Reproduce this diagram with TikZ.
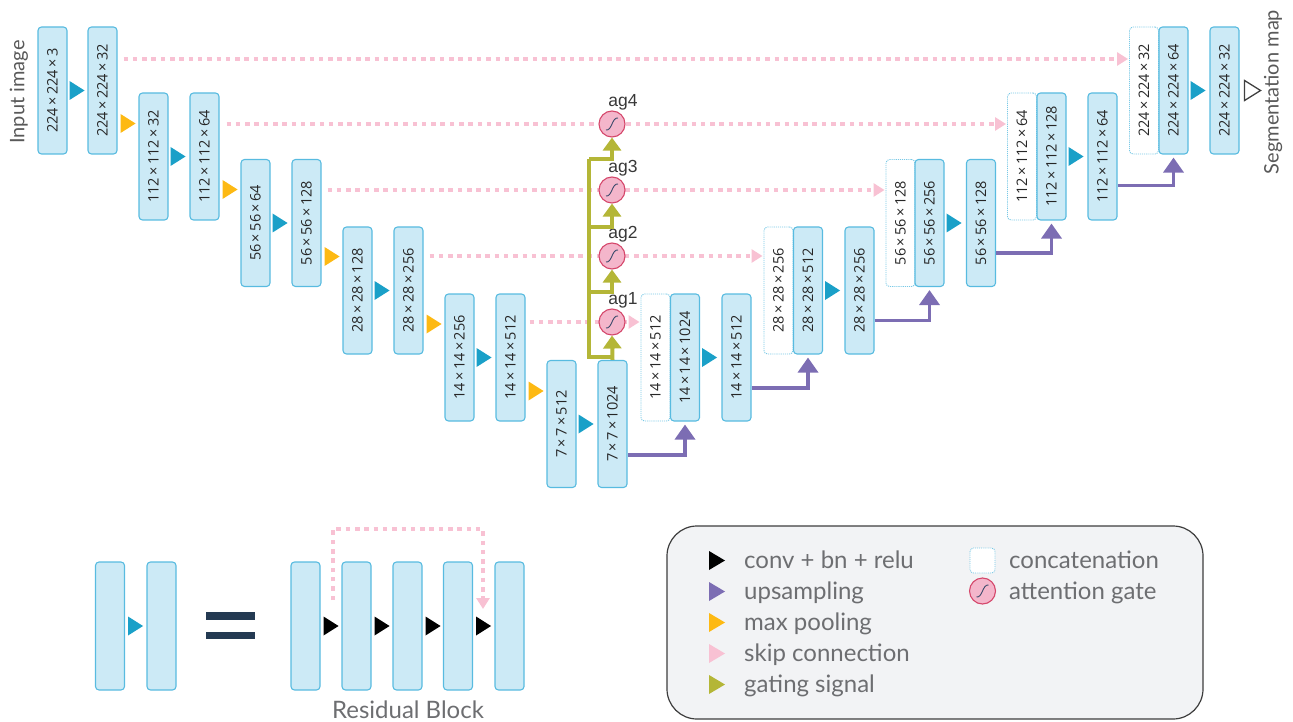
\documentclass[tikz,border=0pt]{standalone}
\usepackage{fontspec}
\usepackage{graphicx}
\usetikzlibrary{arrows.meta,calc}
\newfontfamily\lato{Lato}
\newfontfamily\boxfont{Open Sans}
\newfontfamily\agfont{Liberation Sans}
\definecolor{boxfill}{HTML}{CCEAF6}
\definecolor{boxline}{HTML}{58BBE0}
\definecolor{convc}{HTML}{1AA0C8}
\definecolor{poolc}{HTML}{FDB913}
\definecolor{skipc}{HTML}{F8C1D3}
\definecolor{gatec}{HTML}{B4B637}
\definecolor{upc}{HTML}{7C6DB3}
\definecolor{agf}{HTML}{F4B6CB}
\definecolor{agd}{HTML}{D5476B}
\definecolor{sigc}{HTML}{3B4A6B}
\definecolor{eqc}{HTML}{243A52}
\definecolor{legf}{HTML}{F2F3F5}
\definecolor{legd}{HTML}{3D3D3D}
\definecolor{txtc}{HTML}{6D6E71}
\newcommand\convtri[2]{\fill[#1] #2 ++(0,-9.5) -- ++(15,9.5) -- ++(-15,9.5) -- cycle;}
\newcommand\sigm[1]{\draw[sigc, line width=0.9pt] ($(#1)+(-6,6)$) .. controls ($(#1)+(0,7)$) and ($(#1)+(0,-7)$) .. ($(#1)+(6,-6)$);}
\begin{document}
\begin{tikzpicture}[x=1pt,y=-1pt,
 blk/.style={draw=boxline, fill=boxfill, rounded corners=3.5pt, line width=1.1pt, minimum width=29pt, minimum height=127pt, inner sep=0pt, font=\boxfont\fontsize{14.5}{14.5}\selectfont, text=black!85},
 cat/.style={blk, fill=white, draw=boxline!80, densely dotted, line width=0.9pt},
 rblk/.style={blk, minimum height=128pt},
 skip/.style={draw=skipc, line width=4pt, dash pattern=on 4.5pt off 4.8pt, -{Triangle[width=13pt,length=11pt]}},
 gline/.style={draw=gatec, line width=4pt},
 gate/.style={gline, -{Triangle[width=18pt,length=13pt]}},
 upl/.style={draw=upc, line width=3.5pt, -{Triangle[width=20pt,length=15pt]}},
 ag/.style={circle, draw=agd, fill=agf, line width=1.1pt, minimum size=26pt, inner sep=0pt},
 aglbl/.style={font=\agfont\fontsize{17.5}{17.5}\selectfont, text=black!78, inner sep=0pt, anchor=base},
 bigtxt/.style={font=\lato\fontsize{20}{20}\selectfont, text=black!65, inner sep=0pt},
 legtxt/.style={font=\lato\fontsize{24}{24}\selectfont, text=txtc, inner sep=0pt, anchor=base west},
]
\useasboundingbox (0,0) rectangle (1293,722);
% ---------- encoder
\node[blk] (E1a) at (52.5,90.5) {\rotatebox{90}{224\,×\,224\,×\,3}};
\node[blk] (E1b) at (102.5,90.5) {\rotatebox{90}{224\,×\,224\,×\,32}};
\node[blk] (E2a) at (153.5,156.5) {\rotatebox{90}{112\,×\,112\,×\,32}};
\node[blk] (E2b) at (204.5,156.5) {\rotatebox{90}{112\,×\,112\,×\,64}};
\node[blk] (E3a) at (255.5,223) {\rotatebox{90}{56\,×\,56\,×\,64}};
\node[blk] (E3b) at (306.5,223) {\rotatebox{90}{56\,×\,56\,×\,128}};
\node[blk] (E4a) at (357.5,290.5) {\rotatebox{90}{28\,×\,28\,×\,128}};
\node[blk] (E4b) at (408.5,290.5) {\rotatebox{90}{28\,×\,28\,×\,256}};
\node[blk] (E5a) at (459.5,357.5) {\rotatebox{90}{14\,×\,14\,×\,256}};
\node[blk] (E5b) at (510.5,357.5) {\rotatebox{90}{14\,×\,14\,×\,512}};
\node[blk] (E6a) at (561.5,424) {\rotatebox{90}{7\,×\,7\,×\,512}};
\node[blk] (E6b) at (612.5,424) {\rotatebox{90}{7\,×\,7\,×\,1024}};
% ---------- decoder
\node[cat] (D5c) at (655.5,357.5) {\rotatebox{90}{14\,×\,14\,×\,512}};
\node[blk] (D5b) at (685,357.5) {\rotatebox{90}{14\,×\,14\,×\,1024}};
\node[blk] (D5n) at (736.5,357.5) {\rotatebox{90}{14\,×\,14\,×\,512}};
\node[cat] (D4c) at (778.5,290.5) {\rotatebox{90}{28\,×\,28\,×\,256}};
\node[blk] (D4b) at (808,290.5) {\rotatebox{90}{28\,×\,28\,×\,512}};
\node[blk] (D4n) at (859.5,290.5) {\rotatebox{90}{28\,×\,28\,×\,256}};
\node[cat] (D3c) at (900.5,223) {\rotatebox{90}{56\,×\,56\,×\,128}};
\node[blk] (D3b) at (929.5,223) {\rotatebox{90}{56\,×\,56\,×\,256}};
\node[blk] (D3n) at (981,223) {\rotatebox{90}{56\,×\,56\,×\,128}};
\node[cat] (D2c) at (1022,156.5) {\rotatebox{90}{112\,×\,112\,×\,64}};
\node[blk] (D2b) at (1051.5,156.5) {\rotatebox{90}{112\,×\,112\,×\,128}};
\node[blk] (D2n) at (1102.5,156.5) {\rotatebox{90}{112\,×\,112\,×\,64}};
\node[cat] (D1c) at (1144,90.5) {\rotatebox{90}{224\,×\,224\,×\,32}};
\node[blk] (D1b) at (1173.5,90.5) {\rotatebox{90}{224\,×\,224\,×\,64}};
\node[blk] (D1n) at (1224.5,90.5) {\rotatebox{90}{224\,×\,224\,×\,32}};
% ---------- side texts
\node[bigtxt, rotate=90] (inp) at (19,92) {Input image};
\node[bigtxt, rotate=90] (seg) at (1273,92) {Segmentation map};
\draw[line width=1.3pt, draw=black!75] ($(D1n.east)+(5,-10)$) -- ++(16,10) -- ++(-16,10) -- cycle;
% ---------- conv arrows
\convtri{convc}{($(E1a.east)+(2,0)$)}
\convtri{convc}{($(E2a.east)+(2,0)$)}
\convtri{convc}{($(E3a.east)+(2,0)$)}
\convtri{convc}{($(E4a.east)+(2,0)$)}
\convtri{convc}{($(E5a.east)+(2,0)$)}
\convtri{convc}{($(E6a.east)+(2,0)$)}
\convtri{convc}{($(D5b.east)+(2,0)$)}
\convtri{convc}{($(D4b.east)+(2,0)$)}
\convtri{convc}{($(D3b.east)+(2,0)$)}
\convtri{convc}{($(D2b.east)+(2,0)$)}
\convtri{convc}{($(D1b.east)+(2,0)$)}
% ---------- pooling arrows
\convtri{poolc}{($(E1b.east |- 0,123.5)+(3,0)$)}
\convtri{poolc}{($(E2b.east |- 0,189.5)+(3,0)$)}
\convtri{poolc}{($(E3b.east |- 0,256.5)+(3,0)$)}
\convtri{poolc}{($(E4b.east |- 0,324)+(3,0)$)}
\convtri{poolc}{($(E5b.east |- 0,391)+(3,0)$)}
% ---------- attention gates positions
\coordinate (ag4p) at (612,124);
\coordinate (ag3p) at (612,190);
\coordinate (ag2p) at (612,256);
\coordinate (ag1p) at (612,322);
% ---------- skip connections
\draw[skip] ($(E1b.east |- 0,59)+(6,0)$) -- ($(D1c.west |- 0,59)+(-1,0)$);
\draw[skip] ($(E2b.east |- ag4p)+(7,0)$) -- ($(D2c.west |- ag4p)+(-1,0)$);
\draw[skip] ($(E3b.east |- ag3p)+(6,0)$) -- ($(D3c.west |- ag3p)+(-1,0)$);
\draw[skip] ($(E4b.east |- ag2p)+(6,0)$) -- ($(D4c.west |- ag2p)+(-1,0)$);
\draw[skip] ($(E5b.east |- ag1p)+(4,0)$) -- ($(D5c.west |- ag1p)+(-1,0)$);
% ---------- gates
\node[ag] (ag4) at (ag4p) {};
\node[ag] (ag3) at (ag3p) {};
\node[ag] (ag2) at (ag2p) {};
\node[ag] (ag1) at (ag1p) {};
\sigm{ag4}\sigm{ag3}\sigm{ag2}\sigm{ag1}
\node[aglbl] (l4) at ($(ag4.north)+(11,-3.5)$) {ag4};
\node[aglbl] (l3) at ($(ag3.north)+(11,-3.5)$) {ag3};
\node[aglbl] (l2) at ($(ag2.north)+(11,-3.5)$) {ag2};
\node[aglbl] (l1) at ($(ag1.north)+(11,-3.5)$) {ag1};
% ---------- gating signal
\coordinate (gb) at (589,357);
\coordinate (gt) at (589,159);
\draw[gline, line join=miter] (E6b.north |- gb) -- (gb) -- (gt);
\draw[gate] (E6b.north) -- (ag1.south);
\draw[gate] (gb |- 0,292) -| (ag2.south);
\draw[gate] (gb |- 0,227) -| (ag3.south);
\draw[gate] (gt) -| (ag4.south);
% ---------- upsampling
\draw[upl] ($(E6b.east)+(0,31)$) -| ($(D5b.south)+(0,3)$);
\draw[upl] ($(D5n.east)+(0,30.5)$) -| ($(D4b.south)+(0,3)$);
\draw[upl] ($(D4n.east)+(0,30)$) -| ($(D3b.south)+(0,3)$);
\draw[upl] ($(D3n.east)+(0,30)$) -| ($(D2b.south)+(0,3)$);
\draw[upl] ($(D2n.east)+(0,29)$) -| ($(D1b.south)+(0,3)$);
% ---------- residual block explanation
\node[rblk] (L1) at (110,626) {};
\node[rblk] (L2) at (161.5,626) {};
\convtri{convc}{($(L1.east)+(3,0)$)}
\fill[eqc] (206,612) rectangle (255,619.5);
\fill[eqc] (206,631.5) rectangle (255,639);
\node[rblk] (R1) at (305.5,626) {};
\node[rblk] (R2) at (356.5,626) {};
\node[rblk] (R3) at (407.5,626) {};
\node[rblk] (R4) at (458,626) {};
\node[rblk] (R5) at (509.5,626) {};
\convtri{black}{($(R1.east)+(3,0)$)}
\convtri{black}{($(R2.east)+(3,0)$)}
\convtri{black}{($(R3.east)+(3,0)$)}
\convtri{black}{($(R4.east)+(3,0)$)}
\coordinate (rs) at (333,600);
\coordinate (re) at (483,609);
\draw[skip] (rs) -- (rs |- 0,529) -| (re);
\node[legtxt, anchor=base] (rbt) at (408,718) {Residual Block};
% ---------- legend
\draw[draw=legd, fill=legf, line width=1.2pt, rounded corners=30pt] (667,526) rectangle (1203,719);
\fill[black] (709,551) -- (725,560.5) -- (709,570) -- cycle;
\fill[upc] (709,582) -- (725,591.5) -- (709,601) -- cycle;
\fill[poolc] (709,613) -- (725,622.5) -- (709,632) -- cycle;
\fill[skipc] (709,644) -- (725,653.5) -- (709,663) -- cycle;
\fill[gatec] (709,675) -- (725,684.5) -- (709,694) -- cycle;
\node[legtxt] (t1) at (744,568) {conv + bn + relu};
\node[legtxt] (t2) at (744,599) {upsampling};
\node[legtxt] (t3) at (744,630) {max pooling};
\node[legtxt] (t4) at (744,661) {skip connection};
\node[legtxt] (t5) at (744,692) {gating signal};
\draw[boxline!80, densely dotted, line width=0.9pt, fill=white, rounded corners=3.5pt] (970,548) rectangle (995,573);
\node[ag] (agL) at (982.5,591) {};
\sigm{agL}
\node[legtxt] (t6) at (1009,568) {concatenation};
\node[legtxt] (t7) at (1009,599) {attention gate};
\end{tikzpicture}
\end{document}
